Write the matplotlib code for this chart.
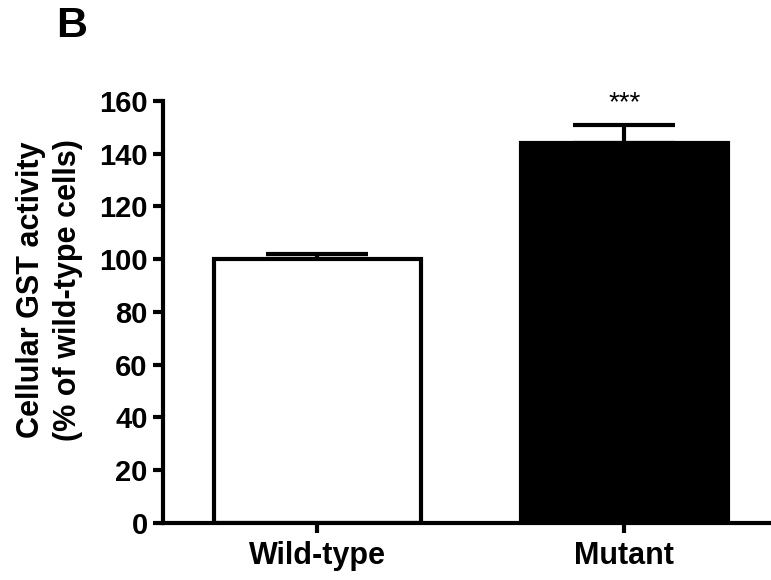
import matplotlib.pyplot as plt
import numpy as np

plt.rcParams['font.family'] = ['Liberation Sans', 'DejaVu Sans']

groups = ["Wild-type", "Mutant"]
means = [100, 144]
errs = [2, 7]
colors = ["white", "black"]
yticks = [0, 20, 40, 60, 80, 100, 120, 140, 160]

fig = plt.figure(figsize=(7.71, 5.8), dpi=100)
ax = fig.add_axes([0.2114, 0.0983, 0.787, 0.7276])

x = np.arange(len(groups))
ax.bar(x, means, width=0.675, color=colors, edgecolor="black", linewidth=3, zorder=2)
ax.errorbar(x, means, yerr=[np.zeros(len(errs)), errs], fmt="none", ecolor="black",
            elinewidth=3, capsize=37, capthick=3, zorder=1)

ax.text(x[1], means[1] + errs[1] + 8, "***", ha="center", va="center", fontsize=20)

ax.set_xlim(-0.503, 1.474)
ax.set_ylim(0, 160)
ax.set_yticks(yticks)
ax.set_xticks(x)
ax.set_xticklabels(groups, fontsize=22, fontweight="bold")
ax.tick_params(axis="y", labelsize=21, width=3, length=7, direction="out", pad=4)
ax.tick_params(axis="x", width=3, length=7, direction="out", pad=6)
for lbl in ax.get_yticklabels():
    lbl.set_fontweight("bold")

for s in ["top", "right"]:
    ax.spines[s].set_visible(False)
for s in ["left", "bottom"]:
    ax.spines[s].set_linewidth(3)

ax.set_ylabel("Cellular GST activity\n(% of wild-type cells)", fontsize=22,
              fontweight="bold", linespacing=1.3)
ax.yaxis.set_label_coords(-0.132, 0.552)

fig.text(0.073, 0.99, "B", fontsize=31, fontweight="bold", va="top")

fig.savefig("out.png", dpi=100)
